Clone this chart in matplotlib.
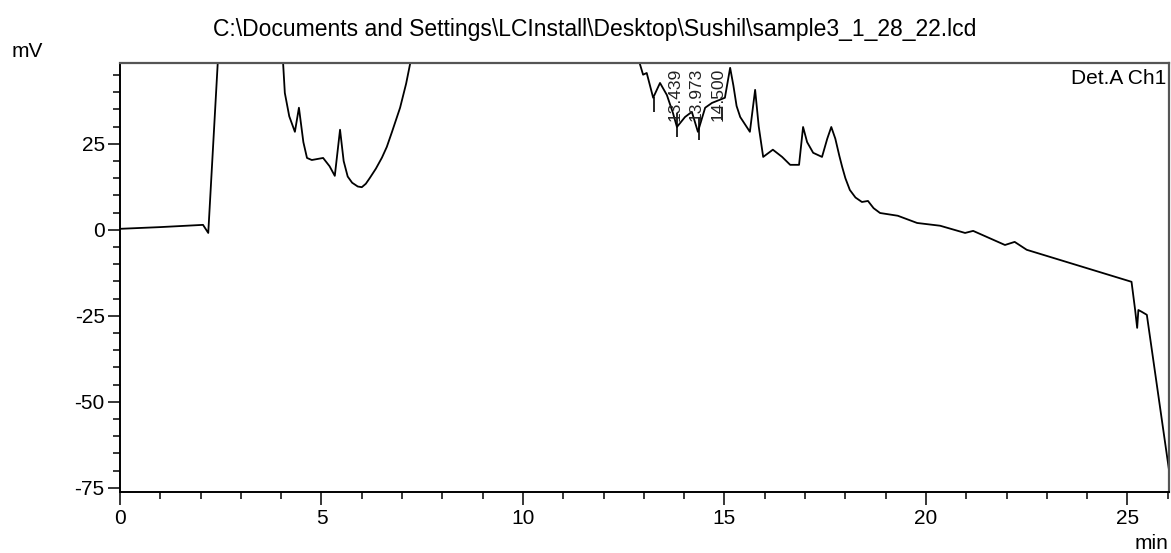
import numpy as np
import matplotlib
matplotlib.use("Agg")
import matplotlib.pyplot as plt
from matplotlib.ticker import MultipleLocator

plt.rcParams['font.family'] = ['Liberation Sans', 'DejaVu Sans']
plt.rcParams['axes.unicode_minus'] = False

# chromatogram trace (min, mV); values above 48 are off-scale guesses
t_min = [0.0, 1.0, 2.06, 2.19, 2.48, 3.0, 3.99,
         4.09, 4.2, 4.34, 4.44, 4.55, 4.64, 4.76, 5.04, 5.2, 5.33, 5.46, 5.55, 5.65,
         5.76, 5.9, 6.0, 6.1, 6.2, 6.35, 6.5, 6.62, 6.75, 6.95, 7.1, 7.4,
         9.5, 12.6, 12.98, 13.07, 13.23, 13.4, 13.57, 13.72, 13.82, 14.02, 14.19, 14.34,
         14.52, 14.69, 15.01, 15.14, 15.22, 15.3, 15.39, 15.63, 15.76, 15.85, 15.96, 16.2,
         16.43, 16.63, 16.85, 16.95, 17.05, 17.2, 17.42, 17.55, 17.65, 17.75, 17.85, 17.92,
         18.0, 18.11, 18.25, 18.41, 18.56, 18.7, 18.86, 19.3, 19.78, 20.35,
         20.97, 21.17, 21.96, 22.2, 22.5, 25.1, 25.19, 25.24, 25.27, 25.35, 25.48, 26.03]
signal_mv = [0.3, 0.8, 1.45, -0.9, 60.0, 80.0, 60.0,
             39.8, 33.0, 28.5, 35.5, 25.5, 20.9, 20.3, 20.9, 18.5, 15.7, 29.1, 20.0, 15.5,
             13.7, 12.6, 12.4, 13.4, 15.1, 17.8, 21.0, 24.1, 28.5, 35.5, 42.5, 60.0,
             90.0, 60.0, 45.1, 45.6, 38.4, 42.7, 39.2, 34.0, 29.9, 32.8, 34.3, 28.5,
             35.5, 36.9, 38.4, 47.1, 42.0, 36.0, 32.8, 28.5, 40.7, 30.0, 21.2, 23.3,
             21.2, 18.9, 18.9, 29.9, 25.5, 22.4, 21.2, 26.5, 29.9, 26.5, 21.5, 18.3,
             15.0, 11.6, 9.4, 8.1, 8.4, 6.3, 4.9, 4.1, 2.0, 1.2,
             -0.9, -0.3, -4.4, -3.5, -5.8, -15.1, -23.3, -28.5, -23.3, -23.8, -24.7, -69.8]

# integrated peaks
peak_rt = [13.439, 13.973, 14.500]
peak_labels = ["13.439", "13.973", "14.500"]

# peak start / end marks
mark_t = [13.25, 13.82, 14.37, 14.93]
mark_lo = [34.3, 27.0, 26.2, 32.0]
mark_hi = [38.7, 34.0, 32.8, 35.5]

title = r"C:\Documents and Settings\LCInstall\Desktop\Sushil\sample3_1_28_22.lcd"

fig = plt.figure(figsize=(11.71, 5.53), dpi=100)
ax = fig.add_axes([120/1171, 1-492/553, 1049/1171, 429/553])

ax.plot(t_min, signal_mv, color='black', lw=1.3)
ax.vlines(mark_t, mark_lo, mark_hi, color='black', lw=1.2)
for rt, lab in zip(peak_rt, peak_labels):
    ax.text(rt + 0.33, 31.5, lab, rotation=90, ha='center', va='bottom',
            fontsize=12.5, color='#222222')

ax.set_xlim(0, 26.03)
ax.set_ylim(-76.2, 48.5)
ax.xaxis.set_major_locator(MultipleLocator(5))
ax.xaxis.set_minor_locator(MultipleLocator(1))
ax.yaxis.set_major_locator(MultipleLocator(25))
ax.yaxis.set_minor_locator(MultipleLocator(5))
ax.tick_params(which='major', length=9, width=1.1, labelsize=15, pad=2, colors='black')
ax.tick_params(which='minor', length=5, width=1.1)
ax.tick_params(axis='x', which='major', pad=3)

for side in ['left', 'bottom']:
    ax.spines[side].set_linewidth(1.4)
for side in ['top', 'right']:
    ax.spines[side].set_linewidth(1.6)
    ax.spines[side].set_color('#555555')

ax.text(0.997, 0.985, "Det.A Ch1", transform=ax.transAxes, ha='right', va='top', fontsize=15)
fig.text(0.508, 0.946, title, ha='center', va='center', fontsize=16.5)
fig.text(0.010, 0.906, "mV", ha='left', va='center', fontsize=15)
fig.text(0.998, 0.018, "min", ha='right', va='center', fontsize=15)

fig.savefig("out.png", dpi=100)
